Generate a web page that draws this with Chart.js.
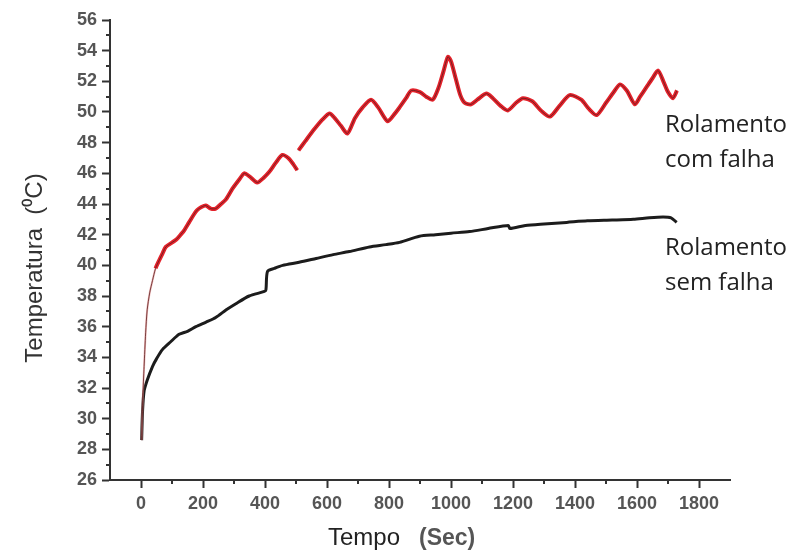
<!DOCTYPE html>
<html lang="pt">
  <head>
    <meta charset="UTF-8" />
    <title>Temperatura x Tempo</title>
    <style>
      * {
        margin: 0;
        padding: 0;
      }
      body {
        background: #fff;
      }
      #chart {
        display: block;
      }
    </style>
  </head>
  <body>
    <canvas id="chart" width="799" height="554"></canvas>

    <script src="https://cdn.jsdelivr.net/npm/chart.js"></script>
    <script>
      // data block
      const xTicks = [0, 200, 400, 600, 800, 1000, 1200, 1400, 1600, 1800];
      const yTicks = [26, 28, 30, 32, 34, 36, 38, 40, 42, 44, 46, 48, 50, 52, 54, 56];

      // rolamento com falha (red)
      const redTime = [
        2, 6, 10, 15, 20, 28, 37, 47, 58, 70, 80, 101, 115, 128, 140, 155, 170, 181, 195, 209,
        225, 241, 258, 274, 295, 317, 333, 350, 375, 395, 414, 435, 456, 475, 491, 504, 506,
        508, 530, 560, 585, 608, 625, 645, 666, 690, 715, 742, 765, 795, 815, 834, 855, 872,
        900, 920, 941, 960, 975, 990, 1000, 1015, 1030, 1044, 1065, 1085, 1114, 1135, 1160,
        1183, 1210, 1232, 1262, 1290, 1319, 1350, 1383, 1420, 1445, 1470, 1500, 1525, 1545,
        1567, 1593, 1610, 1630, 1650, 1668, 1685, 1700, 1716, 1729
      ];
      const redTemp = [
        28.6, 31.5, 33.4, 35.6, 37.1, 38.2, 39.0, 39.8, 40.3, 40.8, 41.2, 41.5, 41.7, 42.0, 42.3,
        42.8, 43.3, 43.6, 43.8, 43.9, 43.7, 43.7, 44.0, 44.3, 45.0, 45.6, 46.0, 45.8, 45.4, 45.7,
        46.1, 46.7, 47.2, 47.0, 46.6, 46.2, null,
        47.5, 48.1, 48.9, 49.5, 49.9, 49.6, 49.1, 48.6, 49.6, 50.3, 50.8, 50.3, 49.4, 49.8, 50.3,
        50.9, 51.4, 51.3, 51.0, 50.8, 51.6, 52.6, 53.6, 53.3, 52.2, 51.1, 50.6, 50.5, 50.8, 51.2,
        50.9, 50.4, 50.1, 50.6, 50.9, 50.7, 50.1, 49.7, 50.4, 51.1, 50.8, 50.2, 49.8, 50.6, 51.3,
        51.8, 51.4, 50.5, 51.0, 51.6, 52.2, 52.7, 52.0, 51.3, 50.9, 51.4
      ];

      // rolamento sem falha (black)
      const blackTime = [
        2, 5, 10, 20, 37, 50, 69, 95, 123, 150, 177, 210, 241, 275, 306, 349, 398, 403, 408,
        430, 457, 510, 565, 620, 672, 737, 790, 834, 898, 950, 1000, 1060, 1120, 1185, 1190,
        1240, 1300, 1373, 1440, 1520, 1588, 1640, 1684, 1710, 1728
      ];
      const blackTemp = [
        28.6, 30.5, 31.8, 32.5, 33.4, 33.9, 34.5, 35.0, 35.5, 35.7, 36.0, 36.3, 36.6, 37.1, 37.5,
        38.0, 38.3, 38.4, 39.6, 39.8, 40.0, 40.2, 40.45, 40.7, 40.9, 41.2, 41.35, 41.5, 41.9,
        42.0, 42.1, 42.2, 42.4, 42.6, 42.4, 42.6, 42.7, 42.8, 42.9, 42.95, 43.0, 43.1, 43.15,
        43.1, 42.8
      ];

      const toPoints = (xs, ys) => xs.map((x, i) => ({ x: x, y: ys[i] }));
      const redPoints = toPoints(redTime, redTemp);
      const blackPoints = toPoints(blackTime, blackTemp);

      // minor ticks, axis titles and the two curve labels
      const decorations = {
        id: "decorations",
        afterDraw(chart) {
          const c = chart.ctx;
          const xs = chart.scales.x;
          const ys = chart.scales.y;
          const area = chart.chartArea;
          c.save();
          c.strokeStyle = "#333";
          c.lineWidth = 2;
          c.beginPath();
          for (let v = 27; v < 56; v += 2) {
            const py = Math.round(ys.getPixelForValue(v));
            c.moveTo(area.left - 4, py);
            c.lineTo(area.left, py);
          }
          for (let v = 100; v < 1900; v += 200) {
            const px = Math.round(xs.getPixelForValue(v));
            c.moveTo(px, area.bottom);
            c.lineTo(px, area.bottom + 4);
          }
          c.stroke();

          // y title
          c.save();
          c.translate(35, 268);
          c.rotate(-Math.PI / 2);
          c.fillStyle = "#333";
          c.font = "24px 'Liberation Sans', Arial, sans-serif";
          c.textAlign = "center";
          c.textBaseline = "middle";
          c.fillText("Temperatura  (\u2070C)", 0, 0);
          c.restore();

          // x title
          c.textBaseline = "alphabetic";
          c.textAlign = "left";
          c.fillStyle = "#222";
          c.font = "24px 'Liberation Sans', Arial, sans-serif";
          c.fillText("Tempo", 328, 545);
          const w = c.measureText("Tempo").width;
          c.fillStyle = "#555";
          c.font = "bold 23px 'Liberation Sans', Arial, sans-serif";
          c.fillText("(Sec)", 328 + w + 19, 545);

          // curve labels
          c.fillStyle = "#222";
          c.font = "24px 'Open Sans', sans-serif";
          c.fillText("Rolamento", 665, 132);
          c.fillText("com falha", 665, 167);
          c.fillText("Rolamento", 665, 255);
          c.fillText("sem falha", 665, 290);
          c.restore();
        }
      };

      const tickFont = { family: "'Liberation Sans', Arial, sans-serif", size: 18, weight: "bold" };

      // config block
      const config = {
        type: "scatter",
        data: {
          datasets: [
            {
              label: "Rolamento com falha (core)",
              data: redPoints,
              showLine: true,
              borderColor: "rgba(90, 30, 30, 0.8)",
              borderWidth: 1,
              pointRadius: 0,
              tension: 0.25,
              spanGaps: false,
              order: 0
            },
            {
              label: "Rolamento com falha",
              data: redPoints,
              showLine: true,
              borderColor: "#e3222b",
              borderWidth: 4,
              pointRadius: 0,
              tension: 0.25,
              spanGaps: false,
              segment: {
                borderColor: (ctx) =>
                  ctx.p0.parsed.x < 45 ? "rgba(230, 140, 140, 0.6)" : undefined,
                borderWidth: (ctx) => (ctx.p0.parsed.x < 45 ? 2 : undefined)
              },
              order: 1
            },
            {
              label: "Rolamento sem falha",
              data: blackPoints,
              showLine: true,
              borderColor: "#1c1c1c",
              borderWidth: 3,
              pointRadius: 0,
              tension: 0.25,
              order: 2
            }
          ]
        },
        options: {
          responsive: false,
          animation: false,
          layout: { padding: { top: 20, right: 69, left: 0, bottom: 0 } },
          plugins: {
            legend: { display: false },
            tooltip: { enabled: false }
          },
          scales: {
            x: {
              type: "linear",
              min: -100,
              max: 1900,
              afterFit: (scale) => {
                scale.height = 74;
              },
              afterBuildTicks: (scale) => {
                scale.ticks = xTicks.map((v) => ({ value: v }));
              },
              ticks: {
                font: tickFont,
                color: "#555",
                padding: 5,
                maxRotation: 0,
                callback: (v) => String(v)
              },
              grid: {
                drawOnChartArea: false,
                tickLength: 8,
                tickColor: "#333",
                tickWidth: 2
              },
              border: { color: "#333", width: 2 }
            },
            y: {
              min: 26,
              max: 56,
              afterFit: (scale) => {
                scale.width = 110;
              },
              afterBuildTicks: (scale) => {
                scale.ticks = yTicks.map((v) => ({ value: v }));
              },
              ticks: { font: tickFont, color: "#555", padding: 5, callback: (v) => String(v) },
              grid: {
                drawOnChartArea: false,
                tickLength: 8,
                tickColor: "#333",
                tickWidth: 2
              },
              border: { color: "#333", width: 2 }
            }
          }
        },
        plugins: [decorations]
      };

      // init render block
      const ctx = document.getElementById("chart");
      const myChart = new Chart(ctx, config);
    </script>
  </body>
</html>
